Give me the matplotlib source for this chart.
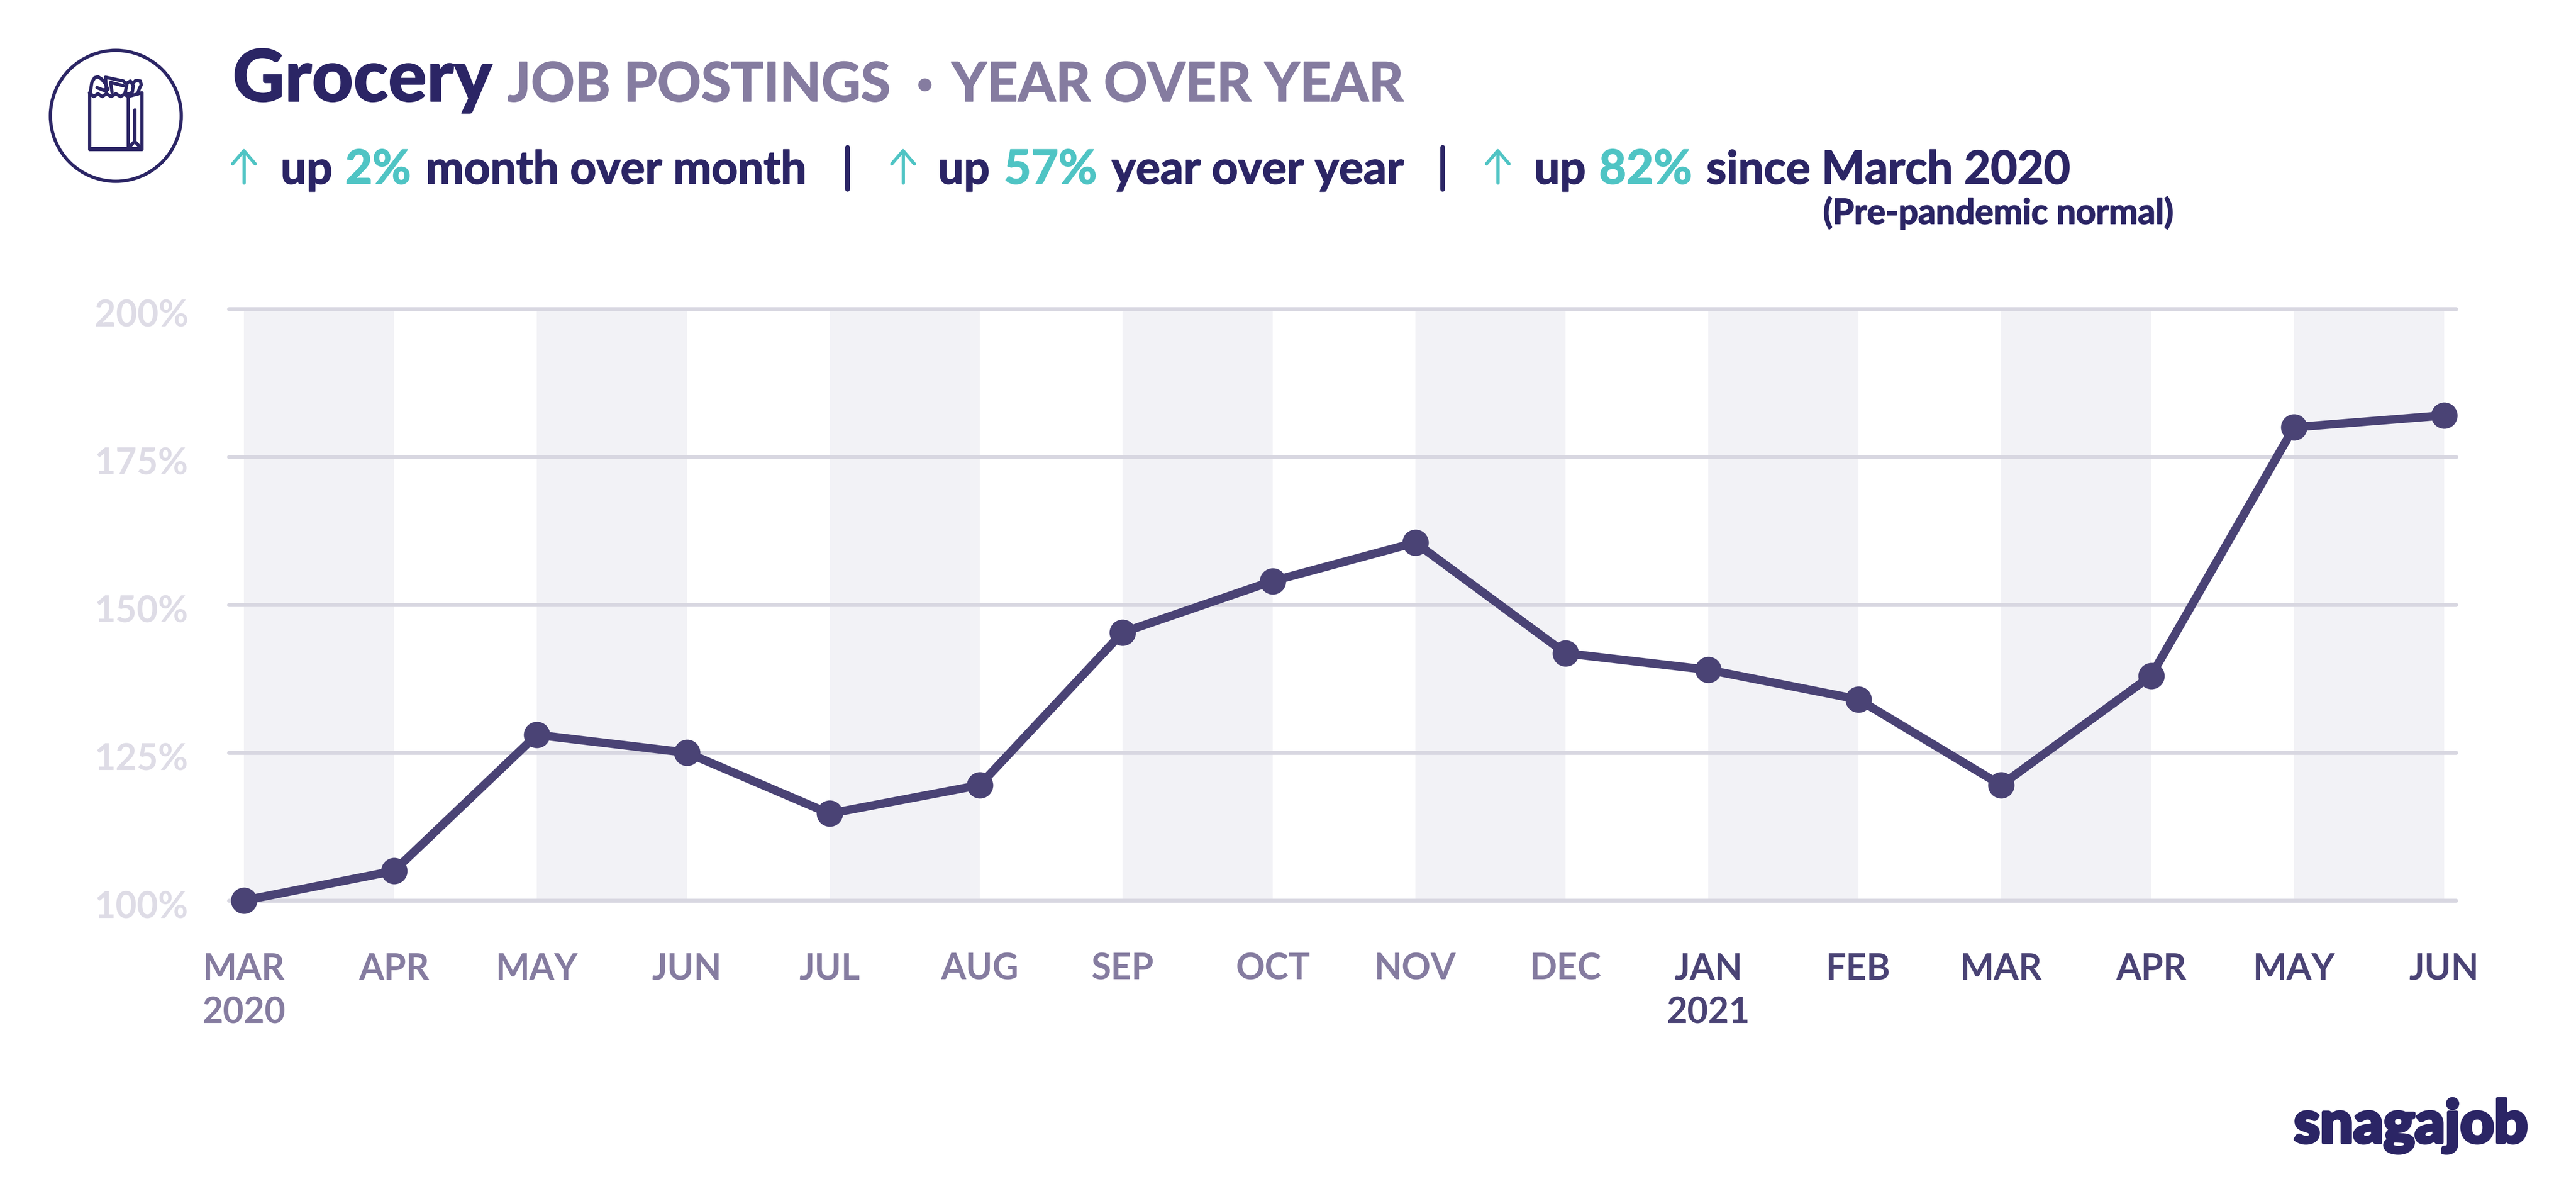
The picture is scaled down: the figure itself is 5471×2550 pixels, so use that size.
import matplotlib
matplotlib.use("Agg")
import matplotlib.pyplot as plt
import matplotlib.patheffects as pe
from matplotlib.lines import Line2D
from matplotlib.patches import Circle
from matplotlib.transforms import Affine2D, ScaledTranslation

months = ["MAR\n2020", "APR", "MAY", "JUN", "JUL", "AUG", "SEP", "OCT",
          "NOV", "DEC", "JAN\n2021", "FEB", "MAR", "APR", "MAY", "JUN"]
postings = [100, 105, 128, 125, 114.7, 119.5, 145.3, 154,
            160.5, 141.8, 139, 134, 119.5, 138, 180, 182]
y_ticks = [100, 125, 150, 175, 200]
y_labels = ["100%", "125%", "150%", "175%", "200%"]

NAVY = "#2B2565"
GREY_PURPLE = "#857CA0"
TEAL = "#4FC4C4"
LINE = "#4A4375"
GRID = "#D8D7E1"
BAND = "#F2F2F6"
Y_LABEL = "#DEDCE6"

W, H = 5471, 2550
DPI = 100
plt.rcParams["font.family"] = ["Lato", "DejaVu Sans"]


def pt(pixels):
    return pixels * 72 / DPI


fig = plt.figure(figsize=(W / DPI, H / DPI), dpi=DPI, facecolor="white")
# header items are placed in reference pixels, origin top left
PX = Affine2D().scale(1 / W, -1 / H).translate(0, 1) + fig.transFigure

left, right, top, bottom = 486, 5216, 656, 1912
ax = fig.add_axes([left / W, 1 - bottom / H, (right - left) / W, (bottom - top) / H])
month_w = 311
ax.set_xlim((left - 518) / month_w, (right - 518) / month_w)
ax.set_ylim(100, 200)
for s in ax.spines.values():
    s.set_visible(False)

# shaded bands are a bit wider than the white gaps, points sit on the band edges
band_extra = 0.025
x_pos = [i + band_extra * (i % 2) for i in range(len(postings))]
for i in range(0, 15, 2):
    ax.axvspan(x_pos[i], x_pos[i + 1], color=BAND, lw=0)

ax.set_yticks(y_ticks, y_labels)
ax.grid(axis="y", color=GRID, lw=pt(8.5), clip_on=False, solid_capstyle="round")
ax.plot(x_pos, postings, color=LINE, lw=pt(18), marker="o",
        ms=pt(56), mew=0, clip_on=False, zorder=5, solid_joinstyle="round")

ax.set_xticks(x_pos, months)
ax.tick_params(axis="x", length=0, pad=pt(111))
ax.tick_params(axis="y", length=0, pad=pt(86))
shift = ScaledTranslation(0, -8 / DPI, fig.dpi_scale_trans)
for lab in ax.get_yticklabels():
    lab.set(color=Y_LABEL, fontsize=56, fontweight="bold")
    lab.set_transform(lab.get_transform() + shift)
for i, lab in enumerate(ax.get_xticklabels()):
    lab.set(color=GREY_PURPLE if i < 10 else LINE, fontsize=55, fontweight="bold",
            linespacing=1.4)


def put(x, y, s, size, color, weight="bold", extra=1.5, **kw):
    fig.text(x, y, s, transform=PX, fontsize=size, color=color, fontweight=weight,
             va="baseline",
             path_effects=[pe.withStroke(linewidth=extra, foreground=color)], **kw)


put(494, 215, "Grocery", 110, NAVY, "black")
put(1078, 215, "JOB POSTINGS", 83, GREY_PURPLE)
put(1948, 215, "·", 84, GREY_PURPLE, "black", extra=3)
put(2021, 215, "YEAR OVER YEAR", 83, GREY_PURPLE)

put(596, 390, "up", 70, NAVY)
put(733, 390, "2%", 72, TEAL)
put(904, 390, "month over month", 70, NAVY)
put(1992, 390, "up", 70, NAVY)
put(2132, 390, "57%", 72, TEAL)
put(2361, 390, "year over year", 70, NAVY)
put(3258, 390, "up", 70, NAVY)
put(3396, 390, "82%", 72, TEAL)
put(3624, 390, "since March 2020", 70, NAVY)
put(3872, 475, "(Pre-pandemic normal)", 53, NAVY)

put(4872, 2426, "snagajob", 90, NAVY, "black", extra=5)


def stroke(xs, ys, color=NAVY, width=7):
    fig.add_artist(Line2D(xs, ys, transform=PX, color=color, lw=pt(width),
                          solid_capstyle="round", solid_joinstyle="round"))


# separators and the up arrows
for x in [1800, 3064]:
    stroke([x, x], [313, 402], NAVY, 10)
for x in [518, 1918, 3181]:
    stroke([x, x], [322, 388], TEAL, 7)
    stroke([x - 24, x, x + 24], [348, 320, 348], TEAL, 7)

# grocery bag icon
fig.add_artist(Circle((246, 246), 139, transform=PX, fill=False, ec=NAVY, lw=pt(7)))
stroke([190, 190, 301, 301], [197, 317, 317, 197])
stroke([190, 301], [314, 314], NAVY, 5)
stroke([190, 199, 208, 217, 226, 236, 246, 256, 264, 272, 301],
       [197, 205, 199, 205, 199, 205, 199, 205, 200, 205, 197])
stroke([272, 272], [205, 317])
stroke([286, 286], [233, 300])
stroke([275, 286, 297], [312, 300, 312])
stroke([192, 195, 201, 208, 216, 224, 229], [195, 175, 165, 163, 168, 178, 190])
stroke([206, 226, 222], [186, 194, 190])
stroke([226, 224, 262, 266], [190, 164, 172, 176])
stroke([238, 235, 262], [196, 175, 182])
stroke([266, 270, 277, 283, 281, 272, 266], [196, 176, 172, 182, 196, 200, 196])
stroke([283, 288, 298, 300, 296, 292], [176, 171, 172, 180, 188, 200])

fig.savefig("out.png", dpi=DPI, facecolor="white")
